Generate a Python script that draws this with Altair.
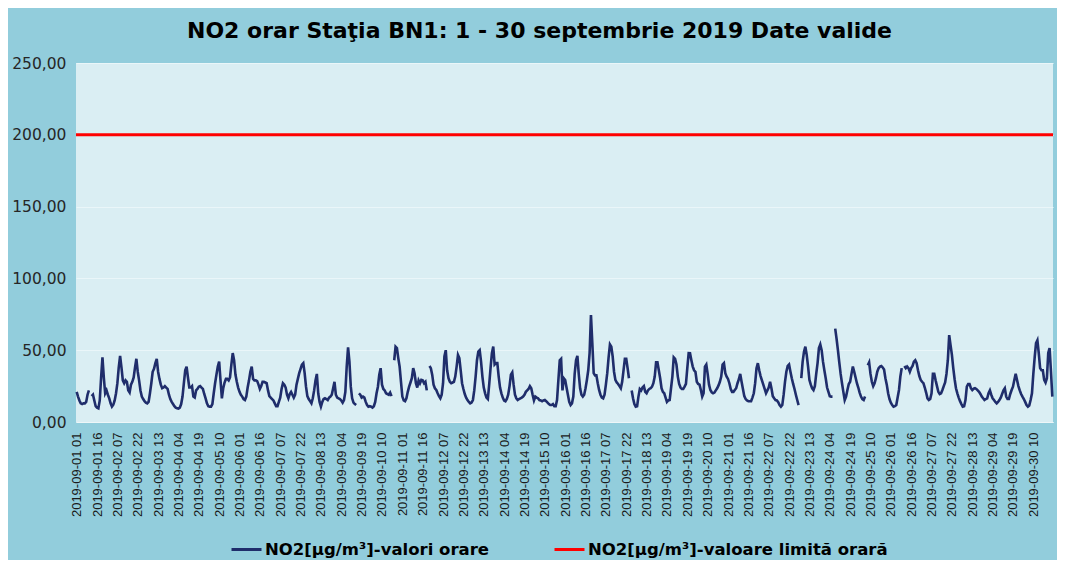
import altair as alt
import pandas as pd

# ---- categories (hourly timestamps) ----
days = [f"2019-09-{d:02d}" for d in range(1, 31)]
hour_labels = [f"{d} {h:02d}" for d in days for h in range(1, 25)]
tick_labels = hour_labels[::15]
y_ticks = [0, 50, 100, 150, 200, 250]

# ---- hourly NO2 values (µg/m³); None = missing ----
no2_w1 = [  # 1-7 Sep
    21, 17.7, 15, 13, 12.5, 13, 13, 14, 19, 22, None, 18, 19, 15, 11, 10, 9.5, 15, 31, 45, 31, 20, 22, 19,
    16.5, 13, 10.7, 12, 15, 20, 27, 38, 46, 38, 29, 27, 29, 28, 22, 20.5, 26, 28, 31, 38, 44, 35, 29, 22,
    17.7, 16, 14.5, 13.5, 13, 14, 20, 27, 35, 37, 41, 44, 35, 30, 26, 23.5, 24, 25, 24, 23, 19, 16, 14, 12.5,
    11, 10, 9.5, 9.3, 10, 12.5, 17.7, 27, 36, 38.6, 31, 24, 24, 25, 17.7, 17, 22, 23, 24.6, 25, 24, 23, 19.5, 16.5,
    13, 11, 10.7, 10.7, 12.5, 20, 27, 33, 38.6, 42, 29, 16.5, 23.5, 27.5, 30, 30, 29, 31, 40, 48, 43, 33, 28, 24,
    21, 19, 17.7, 16, 15.3, 17.7, 24, 29, 35, 38.6, 30, 29, 29, 28.5, 26, 23, 25, 28, 28, 27.5, 27, 22, 18, 17,
    16, 15, 13, 11, 11, 14, 17, 23, 27, 26, 24, 19, 16.5, 19.5, 21, 19, 17, 19, 26, 30, 34, 37, 40, 41,
]
no2_w2 = [  # 8-14 Sep
    34, 24.6, 18, 16, 14.5, 13, 16.5, 22, 29, 33.5, 20, 14, 10.7, 14, 16, 16.5, 16, 15.3, 17, 17.7, 19, 23.5, 28, 19,
    17, 16.5, 16, 15, 13.5, 15.3, 21, 38.6, 52, 42, 24.6, 16.5, 13.5, 12.5, 11.8, None, 20, 19, 17, 17.7, 17, 14, 11.8, 10.7,
    11, 10.7, 10, 11, 14, 20, 24.6, 33, 37.5, 26, 23, 22, 20, 19.5, 19, 20.5, 18, None, 43, 52.5, 51.5, 44.5, 38.6, 28,
    17.7, 15, 14.5, 16.5, 21, 24.6, 27.5, 30.5, 37.5, 34, 27, 24, 29, 27, 29.3, 29, 27, 28, 22, None, 39, 37.5, 33, 26,
    23.5, 22.3, 20, 18, 16.5, 19, 27, 45.6, 50, 36, 30.5, 28, 27, 27.5, 28, 31.6, 38.6, 46.7, 44.5, 36, 27, 23, 19.5, 17,
    15.3, 14, 13, 13.5, 15.3, 22, 31.6, 43, 49, 50, 42, 31.6, 24, 20, 17, 16, 26, 37.5, 48, 52.5, 40, 41, 41, 31.6,
    24, 20, 17, 15, 14.5, 16, 19, 25, 33, 34.5, 26, 19, 16.5, 15.3, 16, 16.5, 17, 17.7, 19, 21, 22, 23, 25, 23.5,
]
no2_w3 = [  # 15-21 Sep
    19, 15, 17.7, 17, 16.5, 15.3, 15, 14.5, 15, 15.3, 14.5, 13.5, 12.5, 11.8, 11.8, 12.5, 11, 11, 15.3, 29.3, 43, 44, 22, 30.5,
    29.3, 24, 19, 14, 11.8, 13, 17.7, 33.5, 43, 46, 33.5, 23.5, 19, 17.7, 19, 23.5, 29.3, 36, 48, 74.5, 55, 34, 32.5, 32.5,
    27, 22.3, 19, 17, 16.5, 19, 26, 34, 45, 54, 52.5, 45.6, 35, 29.3, 27.5, 26.5, 25, 23.5, 28, 36, 44, 44, 37.5, 30.5,
    None, 22, 16.5, 12.5, 10.7, 11, 17.7, 23, 22, 24, 25, 21, 20, 22, 23, 23.5, 24.6, 27, 31.6, 41.5, 41.5, 36, 30.5, 23.5,
    21, 20, 17, 14, 15, 15.3, 23.5, 31.6, 45, 44, 40, 31.6, 26.5, 24, 23, 23, 24.6, 26.5, 37.5, 48, 47.9, 43, 38.6, 36,
    35, 28, 26.5, 26, 22.3, 17.7, 20, 38.6, 40, 33.5, 26, 22.3, 20.7, 20, 20.5, 22, 23.5, 25.5, 28, 31.6, 40, 41, 34, 31.6,
    30, 27, 23, 21, 21, 22.3, 23.5, 27, 29.8, 33.5, 28, 23, 18, 16, 15, 14.5, 14.5, 14.5, 17, 20, 27, 37.5, 41, 36,
]
no2_w4 = [  # 22-28 Sep
    32, 29, 26, 23, 20, 22, 24, 28, 23.5, 18, 16.5, 15.3, 15, 13.8, 11.8, 10.7, 11.8, 19, 28, 35, 39, 40, 35, 30.5,
    26.5, 23, 19, 15.3, 11.8, None, 30.5, 42, 49, 52.5, 46.7, 38.6, 29.3, 26, 23.5, 22.3, 25, 33.5, 41, 51.5, 54, 50, 42, 36,
    30.5, 24, 21, 18, 17.7, 17.7, None, 65, 58, 50, 41.5, 33.5, 27, 21, 15.3, 17.7, 22.3, 26.5, 28, 33.5, 38.6, 35, 31, 27,
    24, 20.5, 17.7, 16, 15.3, 17.7, None, 39.5, 41.5, 33.5, 28, 25, 27, 30.5, 35, 37.5, 38.6, 39, 38, 36.5, 30.5, 26, 20, 16,
    13.5, 11.8, 10.7, 11, 11.8, 17, 22.3, 31.6, 37.5, None, 39, 37.5, 38.6, 37.5, 35, 37.5, 39, 42, 43, 41, 36, 32, 29.3, 28,
    27, 24, 20.5, 16.5, 15.3, 16, 20, 33.5, 33.5, 29, 25, 21, 19.5, 20, 22.3, 25, 27.5, 33.5, 43, 60.5, 53.5, 46.7, 37.5, 29.8,
    23.5, 20, 17, 14.5, 12.5, 10.7, 11, 15.3, 24.6, 26.5, 26.5, 23.5, 22.3, 23.2, 23.5, 23, 22, 21, 19.5, 17.7, 16.5, 15.3, 16, 16.5,
]
no2_w5 = [  # 29-30 Sep
    20, 22, 19, 16.5, 15.3, 14, 13, 14, 15.3, 17, 19.5, 22, 23.5, 17.7, 16, 16, 19.5, 22.3, 24.6, 29.3, 33.5, 29.3, 25, 22,
    19.5, 17.7, 16, 14, 11.8, 10.7, 11.5, 15.3, 20, 33.5, 45, 55, 57, 48, 37.5, 36, 36, 29.3, 27.5, 30.5, 48, 51.5, 35, 17.7,
]
limit_value = 200

SERIES = "NO2[µg/m³]-valori orare"
LIMIT = "NO2[µg/m³]-valoare limită orară"

no2 = no2_w1 + no2_w2 + no2_w3 + no2_w4 + no2_w5
df = pd.DataFrame({"ora": hour_labels, "valoare": no2, "serie": SERIES})
df_lim = pd.DataFrame({"valoare": [limit_value], "serie": [LIMIT]})

FONT = "Liberation Sans"
WIDE = "DejaVu Sans"

color = alt.Color(
    "serie:N",
    scale=alt.Scale(domain=[SERIES, LIMIT], range=["#1f2d6b", "#ff0000"]),
    legend=alt.Legend(
        orient="none", legendX=154, legendY=470, direction="horizontal",
        title=None, symbolType="stroke", symbolStrokeWidth=3, symbolSize=900,
        labelFontSize=16.5, labelFontWeight="bold", labelFont=WIDE, labelColor="#000000",
        labelLimit=500, columnPadding=59, labelOffset=2, padding=0,
    ),
)

y = alt.Y(
    "valoare:Q",
    scale=alt.Scale(domain=[0, 250], nice=False),
    axis=alt.Axis(
        values=y_ticks, labelExpr="replace(format(datum.value, '.2f'), '.', ',')",
        grid=True, gridColor="#eaf6f9", gridWidth=1, domain=False, ticks=False,
        labelPadding=10, labelFontSize=15.5, labelFont=WIDE, labelColor="#262626", title=None,
    ),
)

line = alt.Chart(df).mark_line(strokeWidth=2.6).encode(
    x=alt.X(
        "ora:O", sort=None,
        axis=alt.Axis(
            values=tick_labels, labelAngle=270, labelAlign="right", labelBaseline="middle",
            ticks=False, domain=True, domainColor="#eef6f8", grid=False, labelOverlap=False,
            labelFontSize=13, labelFont=FONT, labelColor="#1a1a1a", labelPadding=10, title=None,
        ),
    ),
    y=y,
    color=color,
)

rule = alt.Chart(df_lim).mark_rule(strokeWidth=3).encode(y=y, color=color)

chart = (
    alt.layer(line, rule)
    .properties(
        width=977, height=359,
        autosize=alt.AutoSizeParams(type="none"),
        padding={"left": 68, "top": 55, "right": 4, "bottom": 138},
        background="#92cddc",
        view=alt.ViewBackground(fill="#daeef3", strokeWidth=0),
        title=alt.TitleParams(
            text="NO2 orar Staţia BN1: 1 - 30 septembrie 2019 Date valide",
            font=WIDE, fontSize=22, fontWeight="bold", color="#000000",
            anchor="middle", dx=-25, offset=-4, baseline="alphabetic",
        ),
    )
    .configure_view(fill="#daeef3", strokeWidth=0)
    .configure(font=FONT)
)

chart.save("out.html", embed_options={"renderer": "svg", "actions": False})
